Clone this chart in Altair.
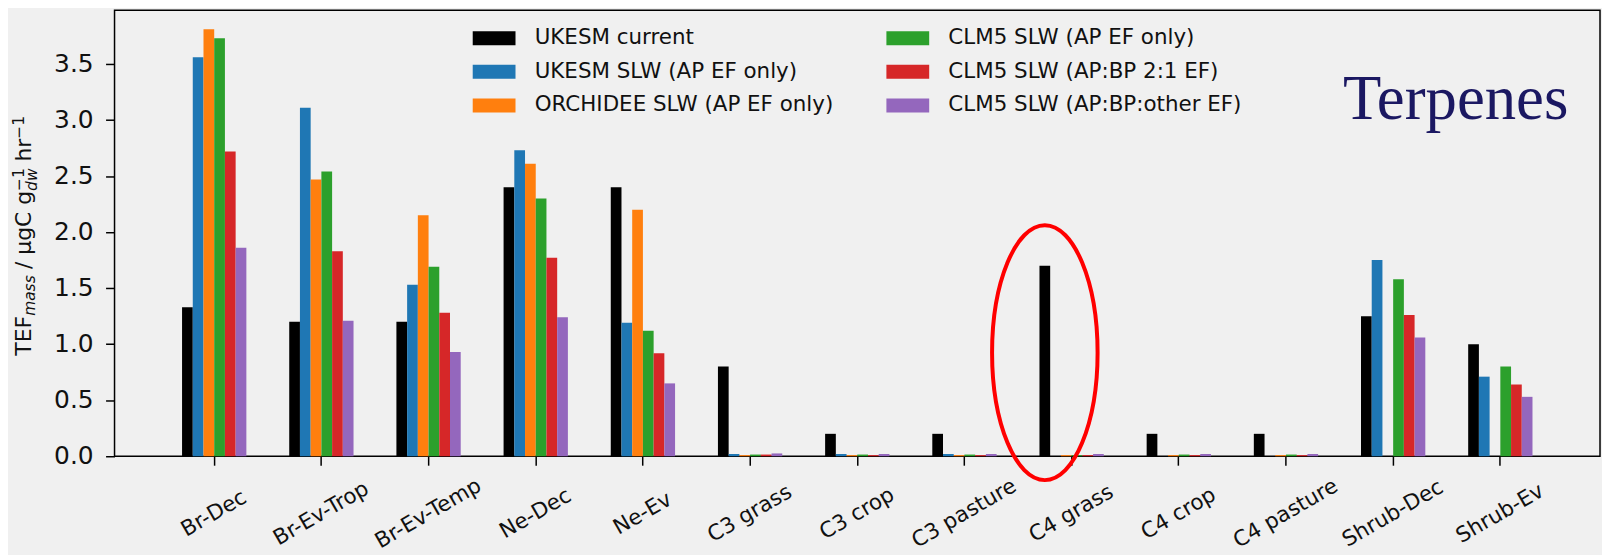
import altair as alt
import pandas as pd

# ---------------- data ----------------
categories = ["Br-Dec", "Br-Ev-Trop", "Br-Ev-Temp", "Ne-Dec", "Ne-Ev", "C3 grass", "C3 crop",
              "C3 pasture", "C4 grass", "C4 crop", "C4 pasture", "Shrub-Dec", "Shrub-Ev"]
series_names = ["UKESM current", "UKESM SLW (AP EF only)", "ORCHIDEE SLW (AP EF only)",
                "CLM5 SLW (AP EF only)", "CLM5 SLW (AP:BP 2:1 EF)", "CLM5 SLW (AP:BP:other EF)"]
series_colors = ["#000000", "#1f77b4", "#ff7f0e", "#2ca02c", "#d62728", "#9467bd"]

ukesm_current = [1.33, 1.20, 1.20, 2.40, 2.40, 0.80, 0.20, 0.20, 1.70, 0.20, 0.20, 1.25, 1.00]
ukesm_slw     = [3.56, 3.11, 1.53, 2.73, 1.19, 0.02, 0.02, 0.02, 0.00, 0.00, 0.00, 1.75, 0.71]
orchidee_slw  = [3.81, 2.47, 2.15, 2.61, 2.20, 0.01, 0.01, 0.01, 0.01, 0.01, 0.01, 0.00, 0.00]
clm5_ap       = [3.73, 2.54, 1.69, 2.30, 1.12, 0.015, 0.015, 0.015, 0.01, 0.015, 0.015, 1.58, 0.80]
clm5_ap_bp    = [2.72, 1.83, 1.28, 1.77, 0.92, 0.015, 0.01, 0.01, 0.01, 0.01, 0.01, 1.26, 0.64]
clm5_other    = [1.86, 1.21, 0.93, 1.24, 0.65, 0.025, 0.02, 0.02, 0.02, 0.02, 0.02, 1.06, 0.53]

y_ticks = [0.0, 0.5, 1.0, 1.5, 2.0, 2.5, 3.0, 3.5]
y_max = 3.98

highlight_category = "C4 grass"
highlight_series = "UKESM current"
highlight_center = 0.924

panel_label = "Terpenes"

# ---------------- table ----------------
values_by_series = [ukesm_current, ukesm_slw, orchidee_slw, clm5_ap, clm5_ap_bp, clm5_other]
rows = []
for name, vals in zip(series_names, values_by_series):
    for cat, v in zip(categories, vals):
        rows.append({"pft": cat, "series": name, "tef": v})
df = pd.DataFrame(rows)

FONT = "DejaVu Sans"
PLOT_H = 448

x_scale = alt.Scale(domain=categories, paddingInner=0.4, paddingOuter=0.63)
xoff_scale = alt.Scale(domain=series_names, paddingInner=0, paddingOuter=0)
y_scale = alt.Scale(domain=[0, y_max], nice=False, zero=True)

x_axis = alt.Axis(title=None, domain=False, labels=False, tickSize=9, tickWidth=1.5,
                  tickColor="black")
y_axis = alt.Axis(title=None, domain=False, grid=False, labels=False, values=y_ticks,
                  tickSize=9, tickWidth=1.5, tickColor="black")

X = alt.X("pft:N", scale=x_scale, sort=categories, axis=x_axis)
XO = alt.XOffset("series:N", scale=xoff_scale, sort=series_names)
Y = alt.Y("tef:Q", scale=y_scale, axis=y_axis)

bars = alt.Chart(df).mark_bar().encode(
    x=X, xOffset=XO, y=Y,
    color=alt.Color("series:N",
                    scale=alt.Scale(domain=series_names, range=series_colors),
                    legend=alt.Legend(title=None, orient="none", legendX=370.5, legendY=17,
                                      columns=2, columnPadding=52.5, rowPadding=11,
                                      symbolType="M-3.07,-1H3.07V1H-3.07Z", symbolSize=196,
                                      symbolStrokeWidth=0, symbolOpacity=1,
                                      labelFontSize=21.5, labelFont=FONT, labelColor="#111",
                                      labelOffset=30, labelLimit=600, padding=0)),
)

# tick labels drawn as text through the same scales
ytick_df = pd.DataFrame({"tef": y_ticks})
ytick_labels = alt.Chart(ytick_df).mark_text(
    align="right", baseline="middle", font=FONT, fontSize=25, color="#111", dx=-21,
).encode(
    x=alt.value(0), y=Y, text=alt.Text("tef:Q", format=".1f"),
)

xcat_df = pd.DataFrame({"pft": categories})
xtick_labels = alt.Chart(xcat_df).mark_text(
    align="center", baseline="middle", angle=330, font=FONT, fontSize=21.5, color="#111",
).encode(
    x=X, y=alt.value(PLOT_H + 58), text=alt.Text("pft:N"),
)

hl_df = pd.DataFrame({"pft": [highlight_category], "series": [highlight_series],
                      "tef": [highlight_center]})
ellipse = alt.Chart(hl_df).mark_point(
    shape="M-0.414,0 A0.414,1 0 1,1 0.414,0 A0.414,1 0 1,1 -0.414,0 Z",
    size=65536, filled=False, color="red", strokeWidth=4, opacity=1,
).encode(x=X, xOffset=XO, y=Y)

one = pd.DataFrame({"k": [0]})


def label_piece(text, x, y, size, italic=False):
    return alt.Chart(one).mark_text(
        text=text, x=x, y=y, angle=270, align="left", baseline="alphabetic",
        font=FONT, fontSize=size, fontStyle="italic" if italic else "normal", color="#111",
    )


# axis title assembled from pieces (main text, subscripts, superscripts)
ytitle = [
    label_piece("TEF", -84, 347, 22),
    label_piece("mass", -79.5, 307, 15.5, italic=True),
    label_piece("/ \u03bcgC g", -84, 260, 22),
    label_piece("\u22121", -91, 181.5, 15.5),
    label_piece("dw", -78, 181.5, 15.5, italic=True),
    label_piece("hr", -84, 152, 22),
    label_piece("\u22121", -91, 129, 15.5),
]

terp = alt.Chart(one).mark_text(
    text=panel_label, x=1347, y=109, align="center", baseline="alphabetic",
    font="Liberation Serif", fontSize=63, color="#1b1862",
)

chart = (
    alt.layer(bars, ellipse, ytick_labels, xtick_labels, terp, *ytitle)
    .properties(width=1492, height=PLOT_H,
                padding={"left": 4, "top": 1, "right": 2, "bottom": 2})
    .configure(background="#f0f0f0", font=FONT)
    .configure_view(fill="white", stroke="black", strokeWidth=1.5)
)

chart.save("out.html", embed_options={"renderer": "svg", "actions": False})
